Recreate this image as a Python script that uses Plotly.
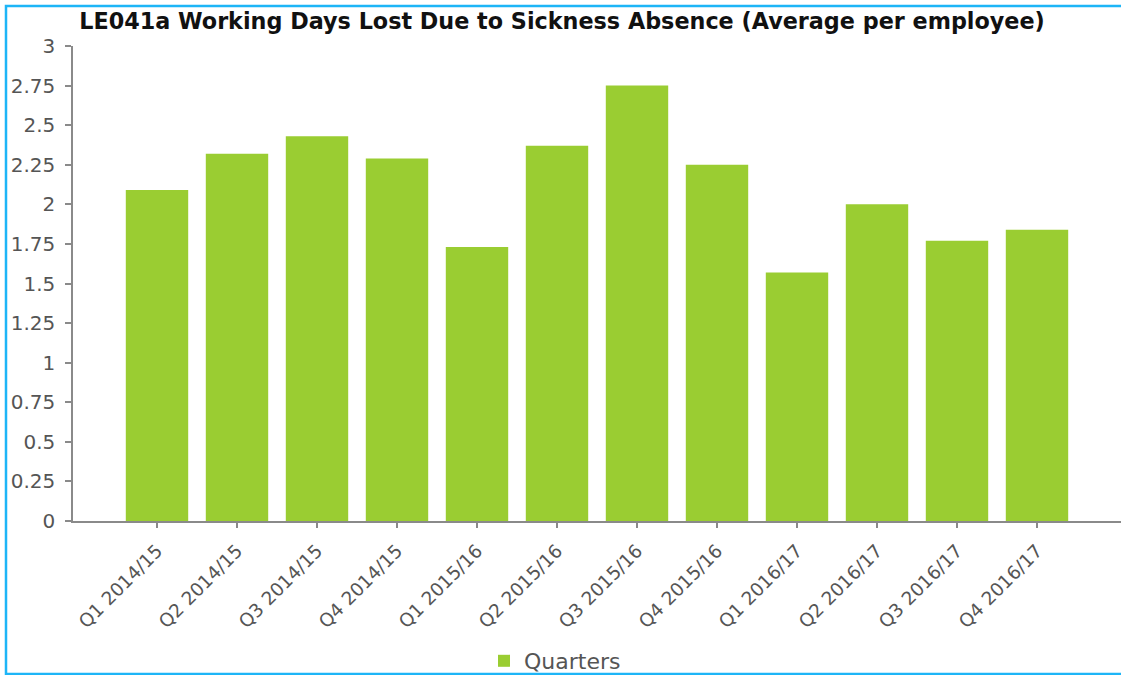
import plotly.graph_objects as go

categories = ["Q1 2014/15", "Q2 2014/15", "Q3 2014/15", "Q4 2014/15",
              "Q1 2015/16", "Q2 2015/16", "Q3 2015/16", "Q4 2015/16",
              "Q1 2016/17", "Q2 2016/17", "Q3 2016/17", "Q4 2016/17"]
values = [2.09, 2.32, 2.43, 2.29, 1.73, 2.37, 2.75, 2.25, 1.57, 2.00, 1.77, 1.84]
y_ticks = [0, 0.25, 0.5, 0.75, 1, 1.25, 1.5, 1.75, 2, 2.25, 2.5, 2.75, 3]
y_tick_labels = ["0", "0.25", "0.5", "0.75", "1", "1.25", "1.5", "1.75", "2", "2.25", "2.5", "2.75", "3"]

W, H = 1121, 675
ML, MR, MT, MB = 73, 0, 46, 154
PW, PH = W - ML - MR, H - MT - MB

def px_x(p):
    return (p - ML) / PW

def px_y(p):
    return (H - MB - p) / PH

GREEN = "#9ACD32"
FONT = "DejaVu Sans, Verdana, sans-serif"

fig = go.Figure()
fig.add_trace(go.Bar(
    x=categories, y=values, name="Quarters",
    marker=dict(color=GREEN, line=dict(width=0)),
    width=0.78, showlegend=True,
))

fig.update_layout(
    width=W, height=H,
    margin=dict(l=ML, r=MR, t=MT, b=MB, pad=0, autoexpand=False),
    paper_bgcolor="white", plot_bgcolor="white",
    font=dict(family=FONT, color="#555555"),
    title=dict(
        text="<b>LE041a Working Days Lost Due to Sickness Absence (Average per employee)</b>",
        x=562 / W, xref="container", xanchor="center",
        y=1 - 21 / H, yref="container", yanchor="middle",
        font=dict(family=FONT, size=22.3, color="#111111"),
    ),
    showlegend=True,
    legend=dict(
        orientation="h", x=px_x(555), xanchor="center",
        y=px_y(661), yanchor="middle",
        font=dict(family=FONT, size=22, color="#555555"),
        itemwidth=30, bgcolor="rgba(0,0,0,0)",
    ),
    xaxis=dict(
        type="category", range=[-1.05, 12.05], automargin=False,
        showline=True, linecolor="#8a8a8a", linewidth=1.5,
        ticks="outside", ticklen=5, tickcolor="#8a8a8a", tickwidth=1.5,
        tickangle=-45, tickfont=dict(family=FONT, size=18.5, color="#555555"),
        ticklabelstandoff=5,
        showgrid=False, zeroline=False,
    ),
    yaxis=dict(
        range=[0, 3], tickvals=y_ticks, ticktext=y_tick_labels, automargin=False,
        showline=True, linecolor="#8a8a8a", linewidth=1.5,
        ticks="outside", ticklen=6, tickcolor="#8a8a8a", tickwidth=1.5,
        tickfont=dict(family=FONT, size=20, color="#555555"),
        ticklabelstandoff=6,
        showgrid=False, zeroline=False,
    ),
    bargap=0.22,
    shapes=[dict(
        type="rect", xref="paper", yref="paper",
        x0=px_x(6), x1=px_x(1130), y0=px_y(674), y1=px_y(6),
        line=dict(color="#1DB5F7", width=2.5), fillcolor="rgba(0,0,0,0)",
        layer="above",
    )],
)

fig.write_html("out.html")
